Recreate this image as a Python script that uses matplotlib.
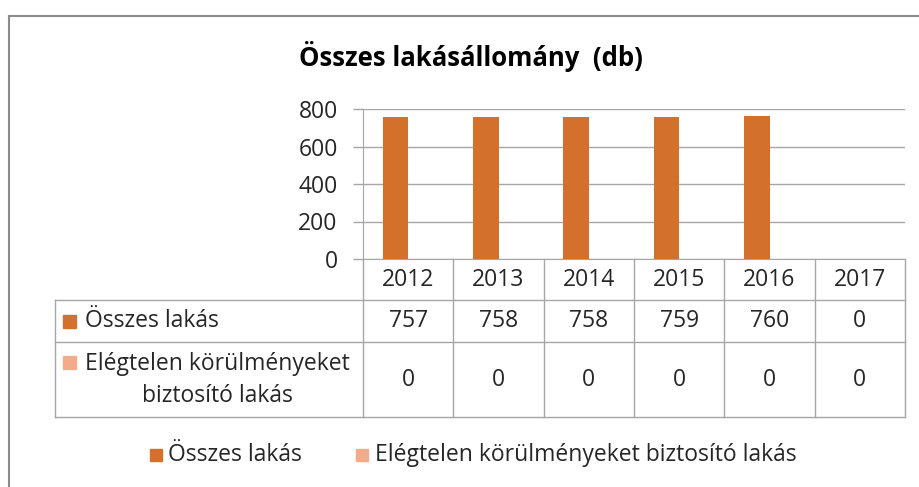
import numpy as np
import matplotlib.pyplot as plt
from matplotlib.lines import Line2D
from matplotlib.patches import Rectangle
from matplotlib.transforms import blended_transform_factory

plt.rcParams['font.family'] = ['Open Sans', 'DejaVu Sans']

# data
years = ['2012', '2013', '2014', '2015', '2016', '2017']
osszes = [757, 758, 758, 759, 760, 0]
elegtelen = [0, 0, 0, 0, 0, 0]
series_names = ['Összes lakás', 'Elégtelen körülményeket biztosító lakás']
table_labels = ['Összes lakás', 'Elégtelen körülményeket\nbiztosító lakás']
title = 'Összes lakásállomány  (db)'

c_dark = '#D2702C'
c_light = '#F4AB8C'
grid_c = '#A6A6A6'
txt_c = '#262626'
fs = 16.5

W, H = 919, 487
def fx(x):
    return x / W
def fy(y):
    return 1 - y / H

fig = plt.figure(figsize=(W / 100, H / 100), dpi=100)

# plot area in pixels: x 363..905, y 109..259
ax = fig.add_axes([fx(363), fy(259), fx(905) - fx(363), (259 - 109) / H])
x = np.arange(len(years))
w = 0.283
ax.bar(x - w / 2, osszes, w, color=c_dark, zorder=3)
ax.bar(x + w / 2, elegtelen, w, color=c_light, zorder=3)
ax.set_xlim(-0.5, len(years) - 0.5)
ax.set_ylim(0, 800)
ax.set_yticks([0, 200, 400, 600, 800])
ax.yaxis.grid(True, color=grid_c, lw=1)
ax.set_axisbelow(True)
ax.set_xticks([])
for s in ['top', 'right']:
    ax.spines[s].set_visible(False)
ax.spines['left'].set_color(grid_c)
ax.spines['bottom'].set_color(grid_c)
ax.tick_params(axis='y', length=7.2, width=1, color=grid_c, pad=11, labelsize=fs,
               labelcolor=txt_c)

# data table
tr = blended_transform_factory(ax.transData, fig.transFigure)
for i in range(len(years) + 1):
    fig.add_artist(Line2D([i - 0.5, i - 0.5], [fy(259), fy(417)], transform=tr,
                          color=grid_c, lw=1))
for yy in [300, 342, 417]:
    fig.add_artist(Line2D([fx(55), fx(905)], [fy(yy), fy(yy)], color=grid_c, lw=1))
fig.add_artist(Line2D([fx(55), fx(55)], [fy(300), fy(417)], color=grid_c, lw=1))

for i in range(len(years)):
    fig.text(i, fy(280), years[i], transform=tr, ha='center', va='center',
             fontsize=fs, color=txt_c)
    fig.text(i, fy(321), str(osszes[i]), transform=tr, ha='center', va='center',
             fontsize=fs, color=txt_c)
    fig.text(i, fy(380), str(elegtelen[i]), transform=tr, ha='center', va='center',
             fontsize=fs, color=txt_c)

fig.add_artist(Rectangle((fx(63), fy(328)), fx(13), 13 / H, color=c_dark))
fig.text(fx(85), fy(321), table_labels[0], ha='left', va='center', fontsize=fs,
         color=txt_c)
fig.add_artist(Rectangle((fx(63), fy(369)), fx(13), 13 / H, color=c_light))
fig.text(fx(85), fy(380), table_labels[1], ha='left', va='center', fontsize=fs,
         color=txt_c, multialignment='center', linespacing=1.45)

# legend
fig.add_artist(Rectangle((fx(150), fy(461)), fx(12), 12 / H, color=c_dark))
fig.text(fx(168), fy(455), series_names[0], ha='left', va='center', fontsize=fs,
         color=txt_c)
fig.add_artist(Rectangle((fx(356), fy(461)), fx(12), 12 / H, color=c_light))
fig.text(fx(375), fy(455), series_names[1], ha='left', va='center', fontsize=fs,
         color=txt_c)

# title
fig.text(fx(471), fy(57), title, ha='center', va='center', fontsize=18.5,
         fontweight='bold', color='black')

# chart border
fig.add_artist(Line2D([fx(8.5), fx(8.5)], [0, fy(15.5)], color='#8C8C8C', lw=1.5))
fig.add_artist(Line2D([fx(8.5), 1], [fy(15.5), fy(15.5)], color='#8C8C8C', lw=1.5))

fig.savefig('out.png', dpi=100)
